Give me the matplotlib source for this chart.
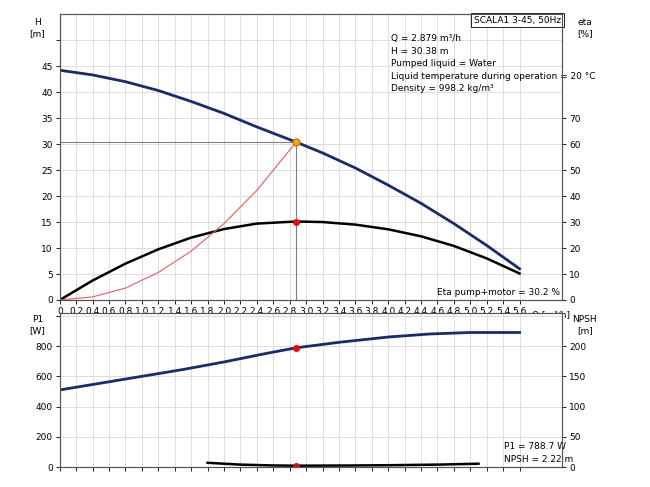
import matplotlib.pyplot as plt
import numpy as np

# pump curve data
q_h = [0, 0.4, 0.8, 1.2, 1.6, 2.0, 2.4, 2.879, 3.2, 3.6, 4.0, 4.4, 4.8, 5.2, 5.6]
head = [44.2, 43.3, 42.0, 40.3, 38.2, 35.9, 33.3, 30.38, 28.3, 25.4, 22.1, 18.6, 14.7, 10.5, 6.0]
eta = [0, 7.5, 14, 19.5, 24, 27.3, 29.4, 30.2, 30.0, 29.0, 27.2, 24.5, 20.8, 16.0, 10.2]
q_sys = [0, 0.4, 0.8, 1.2, 1.6, 2.0, 2.4, 2.879]
h_sys = [0, 0.6, 2.3, 5.3, 9.4, 14.7, 21.1, 30.38]
q_p1 = [0, 0.5, 1.0, 1.5, 2.0, 2.5, 2.879, 3.4, 4.0, 4.5, 5.0, 5.6]
p1 = [510, 555, 600, 645, 695, 750, 788.7, 825, 860, 880, 890, 890]
q_npsh = [1.8, 2.2, 2.6, 2.879, 3.5, 4.0, 4.6, 5.1]
npsh = [7, 4, 2.6, 2.22, 2.5, 3, 4, 5.5]

q_op, h_op, eta_op, p1_op, npsh_op = 2.879, 30.38, 30.2, 788.7, 2.22

plt.rcParams['font.size'] = 6.5
blue = '#1a2a6c'
fig = plt.figure(figsize=(6.5, 4.87), dpi=100)
ax = fig.add_axes([0.092, 0.384, 0.773, 0.587])
ax2 = fig.add_axes([0.092, 0.041, 0.773, 0.316])
xt = np.round(np.arange(0, 5.61, 0.2), 1)

ax.set_xlim(0, 6.12)
ax.set_ylim(0, 55)
ax.set_xticks(xt)
ax.set_xticklabels(['0'] + [f'{v:.1f}' for v in xt[1:]])
ax.set_yticks(np.arange(0, 55, 5))
ax.set_yticklabels([str(v) for v in range(0, 50, 5)] + [''])
ax.grid(True, color='#dddddd', lw=0.7)
ax.plot(q_h, head, color=blue, lw=2)
ax.plot(q_h, [e / 2 for e in eta], color='black', lw=1.8)
ax.plot(q_sys, h_sys, color='#e06060', lw=0.8)
ax.plot([0, q_op], [h_op, h_op], color='gray', lw=0.8)
ax.plot([q_op, q_op], [0, h_op], color='gray', lw=0.8)
ax.plot(q_op, eta_op / 2, 'o', color='red', ms=4)
ax.plot(q_op, h_op, 'o', color='orange', mec='#c08000', ms=5)
axr = ax.twinx()
axr.set_ylim(0, 110)
axr.set_yticks(np.arange(0, 71, 10))
ax.text(-0.045, 0.985, 'H\n[m]', transform=ax.transAxes, ha='center', va='top')
axr.text(1.045, 0.985, 'eta\n[%]', transform=ax.transAxes, ha='center', va='top')
ax.text(0.998, 0.995, 'SCALA1 3-45, 50Hz', transform=ax.transAxes, ha='right', va='top',
        bbox=dict(fc='white', ec='black', lw=0.6, pad=2))
ax.text(0.66, 0.93, 'Q = 2.879 m³/h\nH = 30.38 m\nPumped liquid = Water\n'
        'Liquid temperature during operation = 20 °C\nDensity = 998.2 kg/m³',
        transform=ax.transAxes, ha='left', va='top', linespacing=1.5)
ax.text(0.995, 0.01, 'Eta pump+motor = 30.2 %', transform=ax.transAxes, ha='right', va='bottom')
ax.text(5.98, -2.2, 'Q [m³/h]', ha='center', va='top')

ax2.set_xlim(0, 6.12)
ax2.set_ylim(0, 1018)
ax2.set_xticks(xt)
ax2.set_xticklabels([])
ax2.tick_params(axis='x', length=0)
ax2.set_yticks(np.arange(0, 1001, 200))
ax2.set_yticklabels(['0', '200', '400', '600', '800', ''])
ax2.grid(True, color='#dddddd', lw=0.7)
ax2.plot(q_p1, p1, color=blue, lw=2)
ax2.plot(q_npsh, [n * 4 for n in npsh], color='black', lw=1.8)
ax2.plot(q_op, p1_op, 'o', color='red', ms=4)
ax2.plot(q_op, npsh_op * 4, 'o', color='red', ms=4)
ax2r = ax2.twinx()
ax2r.set_ylim(0, 254.5)
ax2r.set_yticks(np.arange(0, 201, 50))
ax2.text(-0.045, 0.985, 'P1\n[W]', transform=ax2.transAxes, ha='center', va='top')
ax2r.text(1.045, 0.985, 'NPSH\n[m]', transform=ax2.transAxes, ha='center', va='top')
ax2.text(0.885, 0.02, 'P1 = 788.7 W\nNPSH = 2.22 m', transform=ax2.transAxes,
         ha='left', va='bottom', linespacing=1.5)

for a in (ax, axr, ax2, ax2r):
    a.tick_params(length=3, width=0.6, pad=2)
    for s in a.spines.values():
        s.set_color('#555555')

fig.savefig('out.png')
